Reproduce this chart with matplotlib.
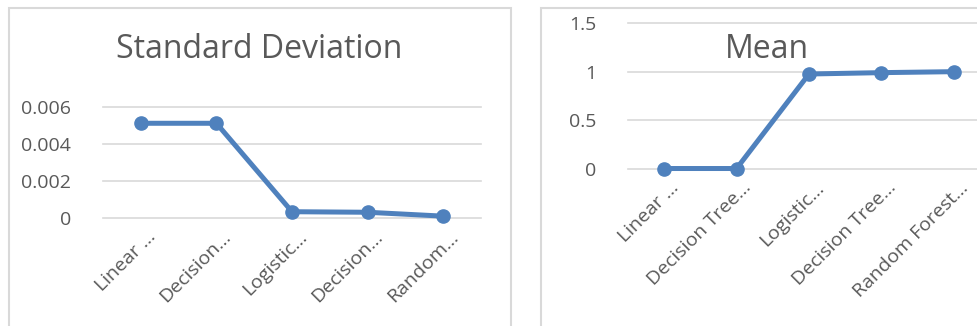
import matplotlib
matplotlib.use('Agg')
import matplotlib.pyplot as plt
import matplotlib.transforms as mtransforms
from matplotlib.patches import Rectangle

plt.rcParams['font.family'] = ['Open Sans', 'DejaVu Sans']

# data
sd_labels = ["Linear ...", "Decision...", "Logistic...", "Decision...", "Random..."]
sd_values = [0.00512, 0.00512, 0.00034, 0.00031, 0.0001]
sd_ticks = [0, 0.002, 0.004, 0.006]
sd_ticklabels = ["0", "0.002", "0.004", "0.006"]

mean_labels = ["Linear ...", "Decision Tree...", "Logistic...", "Decision Tree...", "Random Forest..."]
mean_values = [0.005, 0.005, 0.976, 0.99, 1.0]
mean_ticks = [0, 0.5, 1, 1.5]
mean_ticklabels = ["0", "0.5", "1", "1.5"]

W, H = 978, 326
blue = '#4f81bd'
grey_txt = '#595959'
grid = '#d9d9d9'

fig = plt.figure(figsize=(W / 100, H / 100), dpi=100)

# chart frames
fig.patches.append(Rectangle((9 / W, -0.1), 502 / W, (H - 8) / H + 0.1,
                             transform=fig.transFigure, fill=False,
                             edgecolor=grid, linewidth=1.5))
fig.patches.append(Rectangle((541 / W, -0.1), 0.6, (H - 8) / H + 0.1,
                             transform=fig.transFigure, fill=False,
                             edgecolor=grid, linewidth=1.5))


def panel(rect, labels, values, ticks, ticklabels, ylim, title, title_xy):
    ax = fig.add_axes(rect)
    x = list(range(len(values)))
    ax.plot(x, values, color=blue, linewidth=3.6, marker='o', markersize=9.5,
            solid_capstyle='round', zorder=3, clip_on=False)
    ax.set_xlim(-0.5, len(values) - 0.5)
    ax.set_ylim(*ylim)
    for s in ax.spines.values():
        s.set_visible(False)
    ax.set_yticks(ticks)
    ax.set_yticklabels(ticklabels)
    ax.tick_params(axis='y', length=0, pad=23, labelsize=14, labelcolor=grey_txt)
    ax.set_xticks([])
    for t in ticks:
        ax.axhline(t, color=grid, linewidth=1.2, zorder=1, clip_on=False)
    off = mtransforms.ScaledTranslation(0.12, -0.16, fig.dpi_scale_trans)
    trans = mtransforms.blended_transform_factory(ax.transData, ax.transAxes) + off
    for i, lab in enumerate(labels):
        ax.text(i, 0, lab, transform=trans, rotation=45, rotation_mode='anchor',
                ha='right', va='center', fontsize=14, color=grey_txt)
    fig.text(title_xy[0] / W, 1 - title_xy[1] / H, title, ha='center', va='center',
             fontsize=23, color=grey_txt)
    return ax


panel([103 / W, (H - 218) / H, 378 / W, 111 / H], sd_labels, sd_values,
      sd_ticks, sd_ticklabels, (0, 0.006), "Standard Deviation", (259, 50))
panel([628 / W, (H - 169) / H, 362 / W, 146 / H], mean_labels, mean_values,
      mean_ticks, mean_ticklabels, (0, 1.5), "Mean", (767, 50))

plt.savefig('out.png', dpi=100)
plt.close()
